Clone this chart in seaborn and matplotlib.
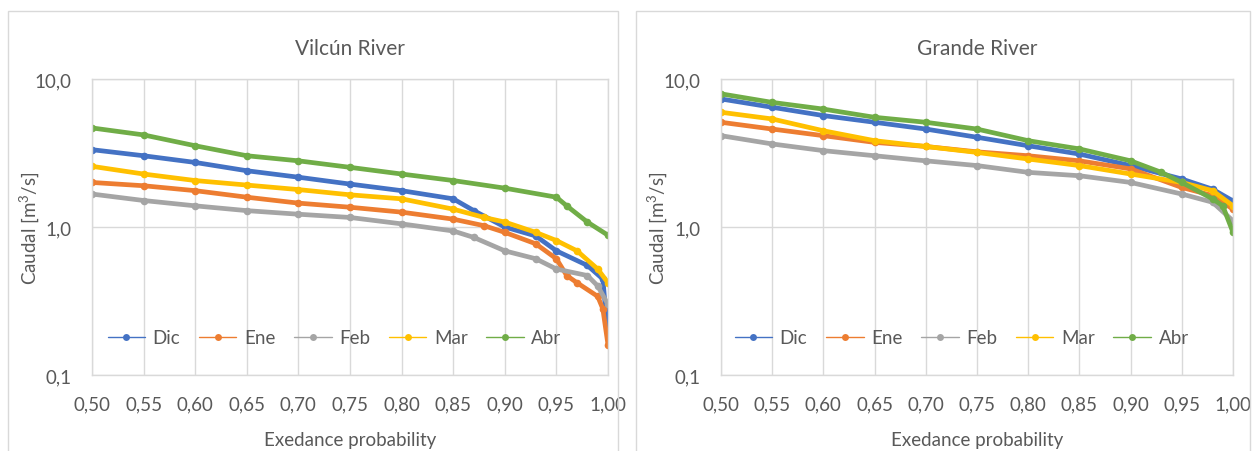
import numpy as np
import pandas as pd
import matplotlib
matplotlib.use("Agg")
import matplotlib.pyplot as plt
from matplotlib.lines import Line2D
from matplotlib.patches import Rectangle
from matplotlib.ticker import FixedLocator, FuncFormatter, NullLocator
import seaborn as sns

months = ["Dic", "Ene", "Feb", "Mar", "Abr"]
colors = ["#4472C4", "#ED7D31", "#A5A5A5", "#FFC000", "#70AD47"]
titles = ["Vilcún River", "Grande River"]

# Vilcún River
vil_dic_p = [0.50, 0.55, 0.60, 0.65, 0.70, 0.75, 0.80, 0.85, 0.87, 0.90, 0.93, 0.95, 0.98, 0.995, 0.998, 1.00]
vil_dic_q = [3.33, 3.03, 2.73, 2.40, 2.17, 1.95, 1.76, 1.55, 1.29, 1.00, 0.87, 0.69, 0.55, 0.445, 0.26, 0.20]
vil_ene_p = [0.50, 0.55, 0.60, 0.65, 0.70, 0.75, 0.80, 0.85, 0.88, 0.90, 0.93, 0.95, 0.96, 0.97, 0.99, 0.995, 1.00]
vil_ene_q = [2.00, 1.90, 1.76, 1.59, 1.45, 1.36, 1.26, 1.13, 1.02, 0.92, 0.77, 0.61, 0.47, 0.42, 0.34, 0.28, 0.16]
vil_feb_p = [0.50, 0.55, 0.60, 0.65, 0.70, 0.75, 0.80, 0.85, 0.87, 0.90, 0.93, 0.95, 0.98, 0.99, 1.00]
vil_feb_q = [1.67, 1.51, 1.39, 1.29, 1.22, 1.16, 1.05, 0.94, 0.85, 0.69, 0.61, 0.52, 0.47, 0.40, 0.30]
vil_mar_p = [0.50, 0.55, 0.60, 0.65, 0.70, 0.75, 0.80, 0.85, 0.88, 0.90, 0.93, 0.95, 0.97, 0.99, 1.00]
vil_mar_q = [2.57, 2.28, 2.06, 1.92, 1.79, 1.65, 1.55, 1.32, 1.16, 1.08, 0.92, 0.81, 0.69, 0.52, 0.42]
vil_abr_p = [0.50, 0.55, 0.60, 0.65, 0.70, 0.75, 0.80, 0.85, 0.90, 0.95, 0.96, 0.98, 1.00]
vil_abr_q = [4.67, 4.19, 3.54, 3.03, 2.80, 2.53, 2.28, 2.06, 1.83, 1.59, 1.39, 1.08, 0.88]

# Grande River
gra_dic_p = [0.50, 0.55, 0.60, 0.65, 0.70, 0.75, 0.80, 0.85, 0.90, 0.95, 0.98, 1.00]
gra_dic_q = [7.33, 6.44, 5.66, 5.10, 4.59, 4.04, 3.54, 3.11, 2.60, 2.11, 1.80, 1.50]
gra_ene_p = [0.50, 0.55, 0.60, 0.65, 0.70, 0.75, 0.80, 0.85, 0.90, 0.95, 0.98, 1.00]
gra_ene_q = [5.10, 4.59, 4.14, 3.73, 3.50, 3.22, 3.03, 2.80, 2.47, 1.85, 1.63, 1.32]
gra_feb_p = [0.50, 0.55, 0.60, 0.65, 0.70, 0.75, 0.80, 0.85, 0.90, 0.95, 0.98, 1.00]
gra_feb_q = [4.14, 3.64, 3.28, 3.03, 2.80, 2.60, 2.34, 2.22, 2.00, 1.67, 1.47, 1.10]
gra_mar_p = [0.50, 0.55, 0.60, 0.65, 0.70, 0.75, 0.80, 0.85, 0.90, 0.95, 0.98, 1.00]
gra_mar_q = [5.96, 5.37, 4.47, 3.83, 3.50, 3.19, 2.88, 2.60, 2.28, 2.00, 1.76, 1.39]
gra_abr_p = [0.50, 0.55, 0.60, 0.65, 0.70, 0.75, 0.80, 0.85, 0.90, 0.93, 0.95, 0.98, 0.99, 1.00]
gra_abr_q = [7.94, 6.95, 6.26, 5.51, 5.10, 4.59, 3.83, 3.37, 2.80, 2.34, 2.00, 1.55, 1.39, 0.92]

x_ticks = [0.50, 0.55, 0.60, 0.65, 0.70, 0.75, 0.80, 0.85, 0.90, 0.95, 1.00]
y_ticks = [0.1, 1.0, 10.0]

panels = [
    [(vil_dic_p, vil_dic_q), (vil_ene_p, vil_ene_q), (vil_feb_p, vil_feb_q),
     (vil_mar_p, vil_mar_q), (vil_abr_p, vil_abr_q)],
    [(gra_dic_p, gra_dic_q), (gra_ene_p, gra_ene_q), (gra_feb_p, gra_feb_q),
     (gra_mar_p, gra_mar_q), (gra_abr_p, gra_abr_q)],
]

sns.set_theme(style="white")
plt.rcParams["font.family"] = ["Lato", "DejaVu Sans"]
plt.rcParams["mathtext.fontset"] = "custom"
plt.rcParams["mathtext.rm"] = "Lato"
txt = "#595959"

fig = plt.figure(figsize=(12.53, 4.52), dpi=100)
fig.patch.set_facecolor("white")
# chart-area borders
for x0, w in [(8, 610), (636, 614)]:
    fig.patches.append(Rectangle((x0 / 1253, -0.01), w / 1253, (452 - 12) / 452 + 0.01,
                                 transform=fig.transFigure, fill=False,
                                 edgecolor="#D9D9D9", linewidth=1.0))

axes_pos = [(92, 608), (721, 1233)]
for k, (xa, xb) in enumerate(axes_pos):
    ax = fig.add_axes([xa / 1253, 1 - 376 / 452, (xb - xa) / 1253, (376 - 80) / 452])
    rows = []
    for m, (p, q) in zip(months, panels[k]):
        for pi, qi in zip(p, q):
            rows.append({"p": pi, "q": qi, "mes": m})
    df = pd.DataFrame(rows)
    sns.lineplot(data=df, x="p", y="q", hue="mes", hue_order=months,
                 palette=colors, marker="o", markersize=5.5, markeredgewidth=0,
                 linewidth=3.4, sort=False, estimator=None, ax=ax, legend=False)
    ax.set_yscale("log")
    ax.set_xlim(0.5, 1.0)
    ax.set_ylim(0.1, 10.0)
    ax.xaxis.set_major_locator(FixedLocator(x_ticks))
    ax.yaxis.set_major_locator(FixedLocator(y_ticks))
    ax.yaxis.set_minor_locator(NullLocator())
    ax.xaxis.set_major_formatter(FuncFormatter(lambda v, _: f"{v:.2f}".replace(".", ",")))
    ax.yaxis.set_major_formatter(FuncFormatter(lambda v, _: f"{v:.1f}".replace(".", ",")))
    ax.grid(True, which="major", color="#D9D9D9", linewidth=1.0)
    ax.set_axisbelow(True)
    for s in ax.spines.values():
        s.set_color("#D9D9D9")
        s.set_linewidth(1.0)
    ax.tick_params(axis="x", length=0, labelsize=13.5, colors=txt, pad=15)
    ax.tick_params(axis="y", length=0, labelsize=13.5, colors=txt, pad=15)
    ax.set_xlabel("Exedance probability", fontsize=13.5, color=txt, labelpad=13)
    ax.set_ylabel("Caudal [m$^3$/s]", fontsize=13.5, color=txt)
    w = (xb - xa)
    ax.yaxis.set_label_coords((42 - xa + (628 if k else 0)) / w, 0.5)
    ax.set_title(titles[k], fontsize=15, color=txt, pad=18)
    handles = [Line2D([0], [0], color=c, lw=1.0, marker="o", markersize=5,
                      markeredgewidth=0) for c in colors]
    leg = ax.legend(handles, months, loc="lower center", bbox_to_anchor=(0.47, 0.04),
                    ncol=5, frameon=False, fontsize=13.5, handlelength=2.0,
                    columnspacing=1.0, handletextpad=0.4)
    for t in leg.get_texts():
        t.set_color(txt)

fig.savefig("out.png", dpi=100)
